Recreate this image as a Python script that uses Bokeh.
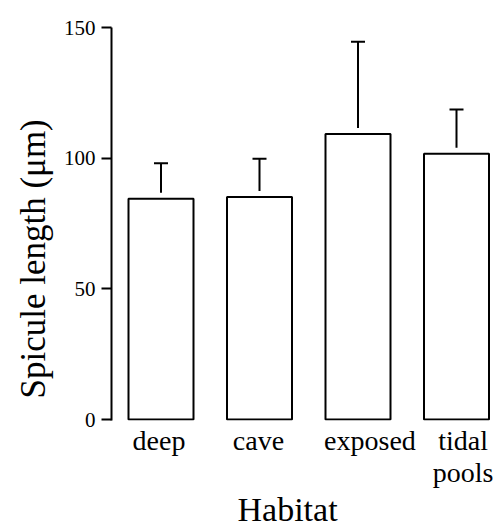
import numpy as np
from bokeh.plotting import figure
from bokeh.models import Range1d, FixedTicker, Whisker, TeeHead, ColumnDataSource, Title
from bokeh.embed import file_html
from bokeh.resources import INLINE

# ---- data ----
habitats = ["deep", "cave", "exposed", "tidal\npools"]
means = [84.5, 85.1, 109.2, 101.7]
sds = [13.6, 14.7, 35.3, 16.9]
y_ticks = [0, 50, 100, 150]
y_title = "Spicule length (\u03bcm)"
x_title = "Habitat"

# ---- layout constants (pixels) ----
W, H = 493, 526
BL, BT = 111, 27
ZERO_PX = 392                    # frame px from value 0 to top (150)
YMAX = 150
YU = ZERO_PX / YMAX              # px per data unit
FRAME_H = ZERO_PX + 1
BB = H - BT - FRAME_H
FRAME_W = W - BL
UNIT = 98.5                      # px per category
X0 = 1 - 49.5 / UNIT
X1 = X0 + FRAME_W / UNIT
GAP = 6 / YU                     # gap between bar top and error line
FONT = "Liberation Serif"
label_dx = [-2, -1, 12, 8]       # px from bar centre to label centre

pos = np.arange(1, len(habitats) + 1)

p = figure(width=W, height=H, output_backend="svg", toolbar_location=None,
           x_range=Range1d(X0, X1), y_range=Range1d(-1 / YU, YMAX),
           min_border_left=BL, min_border_top=BT, min_border_bottom=BB,
           min_border_right=0)
p.outline_line_color = None
p.grid.visible = False
p.background_fill_color = "white"
p.border_fill_color = "white"

ay = p.yaxis[0]
ay.ticker = FixedTicker(ticks=y_ticks)
ay.minor_tick_line_color = None
ay.major_tick_out = 10
ay.major_tick_in = 0
ay.major_tick_line_width = 2
ay.major_tick_line_color = "black"
ay.axis_line_width = 2
ay.axis_line_color = "black"
ay.major_label_text_font = FONT
ay.major_label_text_font_size = "21px"
ay.major_label_text_color = "black"
ay.major_label_standoff = 6

label_pos = [float(x + dx / UNIT) for x, dx in zip(pos, label_dx)]
ax = p.xaxis[0]
ax.ticker = FixedTicker(ticks=label_pos)
ax.major_label_overrides = {lp: name for lp, name in zip(label_pos, habitats)}
ax.axis_line_color = None
ax.major_tick_line_color = None
ax.minor_tick_line_color = None
ax.major_tick_out = 0
ax.major_tick_in = 0
ax.major_label_standoff = 4
ax.major_label_text_font = FONT
ax.major_label_text_font_size = "28px"
ax.major_label_text_color = "black"
ax.major_label_text_line_height = 1.05

src = ColumnDataSource(dict(
    x=pos, top=means,
    lower=[m + GAP for m in means],
    upper=[m + s for m, s in zip(means, sds)],
))

p.vbar(x="x", top="top", bottom=0, width=65 / UNIT, source=src,
       fill_color="white", line_color="black", line_width=2)

wh = Whisker(base="x", lower="lower", upper="upper", source=src,
             dimension="height", line_color="black", line_width=2,
             lower_head=None,
             upper_head=TeeHead(size=14, line_color="black", line_width=2))
p.add_layout(wh)

p.add_layout(Title(text=y_title, align="left", offset=22,
                   text_font=FONT, text_font_size="35px",
                   text_font_style="normal", text_color="black",
                   standoff=15), "left")
p.add_layout(Title(text=x_title, align="left", offset=126,
                   text_font=FONT, text_font_size="34px",
                   text_font_style="normal", text_color="black",
                   standoff=-6), "below")

open("out.html", "w").write(file_html(p, INLINE))
